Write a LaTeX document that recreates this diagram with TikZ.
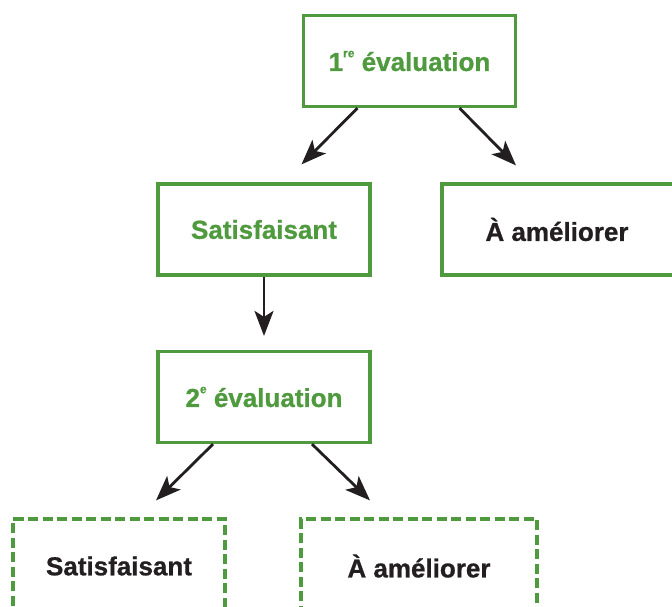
\documentclass[tikz,border=0pt]{standalone}
\usepackage{fontspec}
\setmainfont[BoldFeatures={FakeBold=0.8}]{Liberation Sans}
\usetikzlibrary{arrows.meta,calc}
\definecolor{evgreen}{RGB}{79,154,62}
\definecolor{evblack}{RGB}{35,31,32}
\newcommand{\supx}[1]{\raisebox{1.0ex}{\fontsize{12}{12}\selectfont #1}}
\tikzset{
  evbox/.style={draw=evgreen, line width=3.2pt, minimum width=212pt, minimum height=91pt, inner sep=0pt, font=\fontsize{26}{31}\selectfont\bfseries},
  evdash/.style={evbox, line width=3.2pt, dash pattern=on 10pt off 4.5pt},
  gtext/.style={text=evgreen},
  ktext/.style={text=evblack},
  arr/.style={draw=evblack, line width=2.8pt, -{Stealth[length=25pt,width=19pt,inset=6pt]}}
}
\begin{document}
\begin{tikzpicture}[x=1pt,y=-1pt]
\useasboundingbox (0,0) rectangle (672,606);
\clip (0,0) rectangle (672,606);
\node[evbox,gtext] (b1) at (409.5,61) {1\supx{re} évaluation};
\node[evbox,gtext] (sat) at (264,229.5) {Satisfaisant};
\node[evbox,ktext,minimum width=240pt] (am) at (562,229.5) {};
\node[ktext,font=\fontsize{26}{31}\selectfont\bfseries] (amt) at (557,229.5) {À améliorer};
\node[evbox,gtext] (ev2) at (264,397) {2\supx{e} évaluation};
\node[evdash,ktext,minimum width=212pt,minimum height=94pt] (d1) at (119,566) {Satisfaisant};
\node[evdash,ktext,minimum width=236pt,minimum height=94pt] (d2) at (419,566) {À améliorer};
\draw[arr] ([xshift=-52pt]b1.south) -- ([xshift=37.5pt,yshift=18pt]sat.north);
\draw[arr] ([xshift=50pt]b1.south) -- ([xshift=-46pt,yshift=17pt]am.north);
\draw[arr] (sat.south) -- ([yshift=14pt]ev2.north);
\draw[arr] ([xshift=-51pt]ev2.south) -- ([xshift=37pt,yshift=17pt]d1.north);
\draw[arr] ([xshift=48pt]ev2.south) -- ([xshift=-49pt,yshift=17pt]d2.north);
\end{tikzpicture}
\end{document}
